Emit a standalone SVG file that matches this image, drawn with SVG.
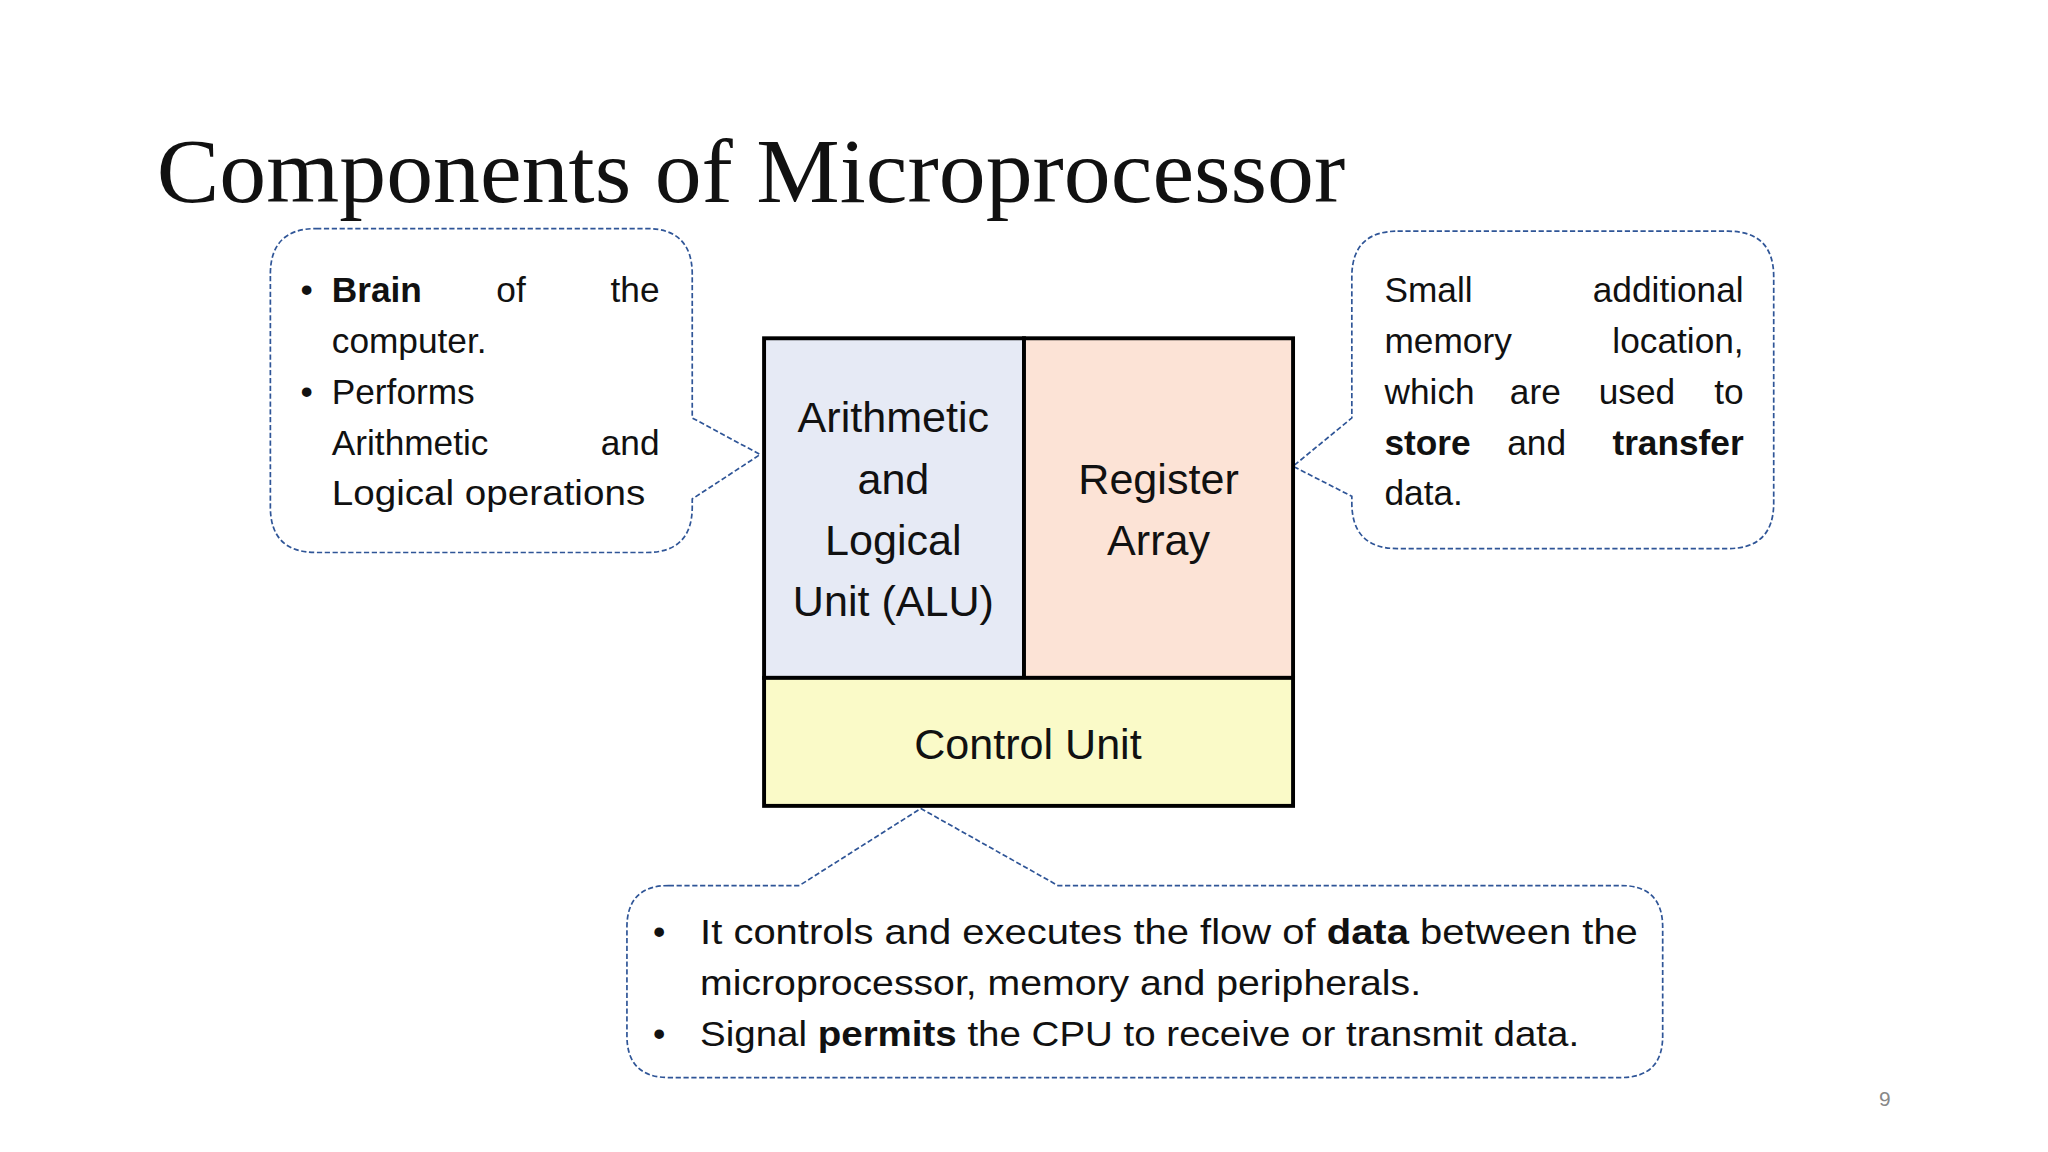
<svg xmlns="http://www.w3.org/2000/svg" width="2048" height="1152" viewBox="0 0 2048 1152">
<style>
.t{font-family:"Liberation Sans",Arial,sans-serif;font-size:27px;fill:#111}
.b{font-weight:bold}
.bx{font-family:"Liberation Sans",Arial,sans-serif;font-size:33px;fill:#111;text-anchor:middle}
.bub{fill:#fff;stroke:#2F5597;stroke-width:1.3;stroke-dasharray:4 2}
.e{text-anchor:end}
</style>
<rect width="2048" height="1152" fill="#fff"/>
<g transform="scale(1.30612)">
<text x="120" y="155" font-family="Liberation Serif,Times New Roman,serif" font-size="70" fill="#111" textLength="910" lengthAdjust="spacingAndGlyphs">Components of Microprocessor</text>
<g id="connectors">
<path class="bub" d="M242,175 H495 Q530,175 530,210 V320 L582,348 L530,382 V388 Q530,423 495,423 H242 Q207,423 207,388 V210 Q207,175 242,175 Z"/>
<path class="bub" d="M1070,177 H1323 Q1358,177 1358,212 V385 Q1358,420 1323,420 H1070 Q1035,420 1035,385 V380 L990,357 L1035,320 V212 Q1035,177 1070,177 Z"/>
<path class="bub" d="M512,678 H612 L705,619 L810,678 H1241 Q1273,678 1273,710 V793 Q1273,825 1241,825 H512 Q480,825 480,793 V710 Q480,678 512,678 Z"/>
</g>
<g id="alu"><rect x="585" y="259" width="199" height="260" fill="#E6EAF5" stroke="#000" stroke-width="3"/>
<text class="bx" x="684" y="331">Arithmetic</text><text class="bx" x="684" y="378">and</text><text class="bx" x="684" y="425">Logical</text><text class="bx" x="684" y="472">Unit (ALU)</text></g>
<g id="register"><rect x="784" y="259" width="206" height="260" fill="#FCE3D6" stroke="#000" stroke-width="3"/>
<text class="bx" x="887" y="378">Register</text><text class="bx" x="887" y="425">Array</text></g>
<g id="control"><rect x="585" y="519" width="405" height="98" fill="#FAFAC8" stroke="#000" stroke-width="3"/>
<text class="bx" x="787" y="581">Control Unit</text></g>
<g id="left-note" class="t">
<text x="230" y="231">•</text><text x="230" y="309">•</text>
<text x="254" y="231" class="b">Brain</text><text x="380" y="231">of</text><text x="505" y="231" class="e">the</text>
<text x="254" y="270">computer.</text>
<text x="254" y="309">Performs</text>
<text x="254" y="348">Arithmetic</text><text x="505" y="348" class="e">and</text>
<text x="254" y="387" textLength="240" lengthAdjust="spacingAndGlyphs">Logical operations</text>
</g>
<g id="right-note" class="t">
<text x="1060" y="231">Small</text><text x="1335" y="231" class="e">additional</text>
<text x="1060" y="270">memory</text><text x="1335" y="270" class="e">location,</text>
<text x="1060" y="309">which</text><text x="1156" y="309">are</text><text x="1224" y="309">used</text><text x="1335" y="309" class="e">to</text>
<text x="1060" y="348" class="b">store</text><text x="1154" y="348">and</text><text x="1335" y="348" class="e b">transfer</text>
<text x="1060" y="387">data.</text>
</g>
<g id="bottom-note" class="t">
<text x="500" y="723">•</text><text x="500" y="801">•</text>
<text x="536" y="723" textLength="718" lengthAdjust="spacingAndGlyphs">It controls and executes the flow of <tspan class="b">data</tspan> between the</text>
<text x="536" y="762" textLength="552" lengthAdjust="spacingAndGlyphs">microprocessor, memory and peripherals.</text>
<text x="536" y="801" textLength="673" lengthAdjust="spacingAndGlyphs">Signal <tspan class="b">permits</tspan> the CPU to receive or transmit data.</text>
</g>
<text x="1443" y="847" font-family="Liberation Sans,Arial,sans-serif" font-size="16" fill="#888" text-anchor="middle">9</text>
</g>
</svg>
